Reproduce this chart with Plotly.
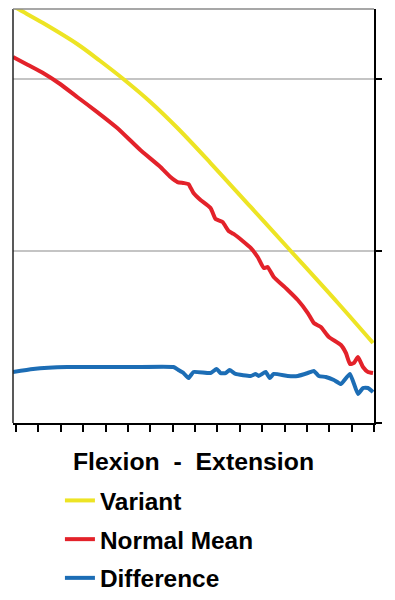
import plotly.graph_objects as go

# x: percent of motion cycle, y: angle units (gridlines at 20, 40)
variant_x = [-0.84, 1.12, 7.56, 17.09, 23.53, 29.97, 37.54, 45.10, 54.34, 65.55, 76.75, 89.92, 99.72]
variant_y = [48.49, 48.02, 46.51, 44.07, 42.09, 40.00, 37.33, 34.30, 30.23, 25.12, 20.00, 13.95, 9.30]

normal_x = [-0.84, 3.36, 7.56, 12.32, 17.09, 22.69, 28.29, 34.73, 40.34, 43.14, 45.10, 46.78,
            48.18, 49.58, 51.54, 54.34, 55.74, 57.70, 59.38, 60.78, 63.31, 65.55, 67.51, 69.19,
            70.31, 71.99, 75.91, 78.71, 81.51, 83.19, 85.15, 87.39, 90.76, 92.16, 93.28, 94.40,
            95.52, 96.92, 98.32, 99.72]
normal_y = [42.56, 41.63, 40.70, 39.42, 37.91, 36.16, 34.30, 31.74, 29.77, 28.60, 28.02, 27.91,
            27.79, 26.74, 25.93, 25.00, 23.72, 23.37, 22.33, 21.98, 21.16, 20.35, 19.30, 18.02,
            18.14, 16.98, 15.47, 14.30, 12.79, 11.63, 11.16, 10.00, 9.07, 8.14, 6.86, 6.98,
            7.67, 6.51, 5.93, 5.81]

diff_x = [-0.84, 4.76, 14.29, 23.53, 32.77, 43.98, 45.38, 46.78, 48.18, 49.58, 54.34, 56.02,
          57.14, 58.54, 59.66, 61.34, 65.55, 66.95, 67.79, 69.75, 70.87, 71.99, 75.91, 78.71,
          81.51, 83.19, 84.59, 86.55, 88.80, 90.76, 93.28, 95.52, 96.92, 98.32, 99.72]
diff_y = [5.93, 6.28, 6.51, 6.51, 6.51, 6.51, 6.16, 5.81, 5.23, 5.93, 5.81, 6.28,
          5.81, 5.81, 6.16, 5.70, 5.47, 5.70, 5.47, 5.93, 5.23, 5.70, 5.47, 5.47,
          5.81, 6.05, 5.47, 5.35, 5.00, 4.53, 5.70, 3.37, 4.07, 4.07, 3.60]

names = ["Variant", "Normal Mean", "Difference"]
colors = ["#EDE424", "#E3222A", "#1C6DB5"]
smooth = [1.0, 0.4, 0.4]

FONT = "Liberation Sans, Arial, sans-serif"

fig = go.Figure()
for i, (xs, ys) in enumerate([(variant_x, variant_y), (normal_x, normal_y), (diff_x, diff_y)]):
    fig.add_trace(go.Scatter(x=xs, y=ys, mode="lines", name=names[i],
                             legendgroup=f"g{i}",
                             line=dict(color=colors[i], width=4, shape="spline",
                                       smoothing=smooth[i])))

# page body has an 8px default margin, so the figure is 8px smaller than the window
fig.update_layout(
    width=387, height=592,
    margin=dict(l=5, r=21, t=1, b=177, autoexpand=False),
    paper_bgcolor="white", plot_bgcolor="white",
    font=dict(family=FONT, color="black"),
    showlegend=True,
    legend=dict(x=0.13, y=-0.133, xanchor="left", yanchor="top",
                font=dict(size=24.4, family=FONT, weight="bold", color="black"),
                tracegroupgap=4, bgcolor="rgba(0,0,0,0)"),
    xaxis=dict(range=[-0.84, 100], tickmode="linear", tick0=0, dtick=6.25,
               ticks="outside", ticklen=7, tickwidth=2, tickcolor="black",
               showline=True, linecolor="black", linewidth=2, automargin=False,
               showgrid=False, zeroline=False, showticklabels=False,
               title=dict(text="Flexion\u00a0\u00a0-\u00a0\u00a0Extension", standoff=22,
                          font=dict(size=24.8, family=FONT, weight="bold", color="black"))),
    yaxis=dict(range=[0, 48.14], side="right", tickmode="linear", tick0=0, dtick=20,
               ticks="outside", ticklen=6, tickwidth=2, tickcolor="black",
               showline=True, linecolor="black", linewidth=2, automargin=False,
               showgrid=True, gridcolor="#c4c4c4", gridwidth=1.5,
               zeroline=False, showticklabels=False),
    shapes=[
        dict(type="line", xref="paper", yref="paper", x0=0, x1=0, y0=0, y1=1,
             line=dict(color="#222222", width=1.5), layer="above"),
        dict(type="line", xref="paper", yref="paper", x0=0, x1=1, y0=1, y1=1,
             line=dict(color="#8a8a8a", width=1.5), layer="above"),
    ],
)

fig.write_html("out.html")
